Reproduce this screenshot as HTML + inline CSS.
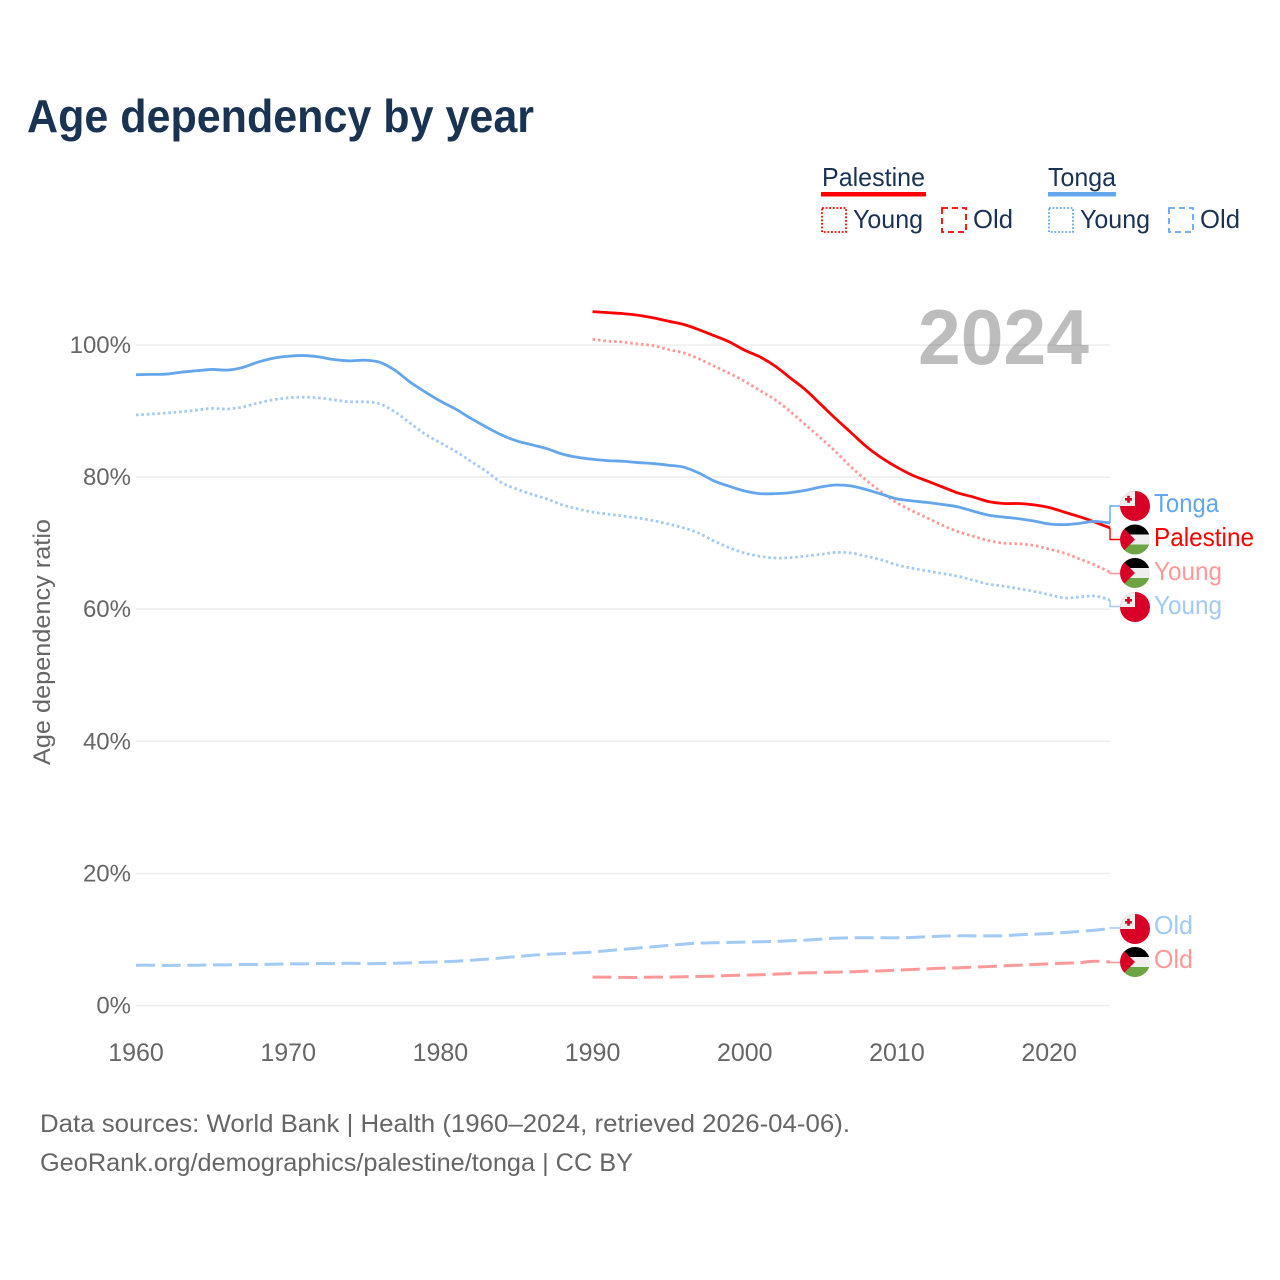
<!DOCTYPE html>
<html lang="en">
<head>
<meta charset="utf-8">
<title>Age dependency by year</title>
<style>
html,body{margin:0;padding:0;background:#fff;}
svg{display:block;font-family:"Liberation Sans",sans-serif;}
</style>
</head>
<body>
<svg id="chart" width="1280" height="1280" viewBox="0 0 1280 1280" xmlns="http://www.w3.org/2000/svg">
<defs>
<clipPath id="flag-clip"><circle cx="15" cy="15" r="15"/></clipPath>
<g id="flag-tonga">
<g clip-path="url(#flag-clip)">
<rect width="30" height="30" fill="#d80027"/>
<rect width="15" height="15" fill="#eee"/>
<rect x="7.2" y="4.8" width="2.6" height="7" fill="#d80027"/>
<rect x="5" y="7" width="7" height="2.6" fill="#d80027"/>
</g>
</g>
<g id="flag-palestine">
<g clip-path="url(#flag-clip)">
<rect width="30" height="10" fill="#000"/>
<rect y="10" width="30" height="10" fill="#eee"/>
<rect y="20" width="30" height="10" fill="#6da544"/>
<polygon points="0,0 0,30 15,15" fill="#d80027"/>
</g>
</g>
</defs>
<text x="27" y="132" font-size="46" font-weight="700" fill="#1a3352" textLength="507" lengthAdjust="spacingAndGlyphs">Age dependency by year</text>

<g font-size="26" fill="#1a3352">
<text x="822" y="186" textLength="103" lengthAdjust="spacingAndGlyphs">Palestine</text>
<rect x="821" y="192" width="105" height="4.5" fill="#ff0000"/>
<text x="1048" y="186" textLength="68" lengthAdjust="spacingAndGlyphs">Tonga</text>
<rect x="1048" y="192" width="68" height="4.5" fill="#64a6ec"/>
<rect x="822" y="208" width="24" height="24" fill="none" stroke="#ff0000" stroke-width="1.8" stroke-dasharray="1.8 1.8"/>
<text x="853" y="228" textLength="70" lengthAdjust="spacingAndGlyphs">Young</text>
<rect x="942" y="208" width="24" height="24" fill="none" stroke="#ff0000" stroke-width="1.8" stroke-dasharray="6 4"/>
<text x="973" y="228" textLength="40" lengthAdjust="spacingAndGlyphs">Old</text>
<rect x="1049" y="208" width="24" height="24" fill="none" stroke="#64a6ec" stroke-width="1.8" stroke-dasharray="1.8 1.8"/>
<text x="1080" y="228" textLength="70" lengthAdjust="spacingAndGlyphs">Young</text>
<rect x="1169" y="208" width="24" height="24" fill="none" stroke="#64a6ec" stroke-width="1.8" stroke-dasharray="6 4"/>
<text x="1200" y="228" textLength="40" lengthAdjust="spacingAndGlyphs">Old</text>
</g>

<g id="grid"></g>
<g id="y-ticks"></g>
<g id="x-ticks"></g>
<text x="918" y="364" font-size="78" font-weight="700" fill="#000000" fill-opacity="0.26" textLength="171" lengthAdjust="spacingAndGlyphs">2024</text>
<text transform="translate(50,765) rotate(-90)" font-size="24" fill="#666666" textLength="246" lengthAdjust="spacingAndGlyphs">Age dependency ratio</text>
<g id="series"></g>
<g id="connectors"></g>

<g font-size="26">
<use href="#flag-tonga" x="1120" y="491"/>
<use href="#flag-palestine" x="1120" y="524.5"/>
<use href="#flag-palestine" x="1120" y="558"/>
<use href="#flag-tonga" x="1120" y="592"/>
<use href="#flag-tonga" x="1120" y="914"/>
<use href="#flag-palestine" x="1120" y="947"/>
<text x="1154" y="512" fill="#64a6ec" textLength="65" lengthAdjust="spacingAndGlyphs">Tonga</text>
<text x="1154" y="546" fill="#ff0000" textLength="100" lengthAdjust="spacingAndGlyphs">Palestine</text>
<text x="1154" y="580" fill="#ff9999" textLength="68" lengthAdjust="spacingAndGlyphs">Young</text>
<text x="1154" y="614" fill="#a2caf4" textLength="68" lengthAdjust="spacingAndGlyphs">Young</text>
<text x="1154" y="934" fill="#a2caf4" textLength="39" lengthAdjust="spacingAndGlyphs">Old</text>
<text x="1154" y="968" fill="#ff9999" textLength="39" lengthAdjust="spacingAndGlyphs">Old</text>
</g>

<g font-size="25" fill="#666666">
<text x="40" y="1132" textLength="810" lengthAdjust="spacingAndGlyphs">Data sources: World Bank | Health (1960–2024, retrieved 2026-04-06).</text>
<text x="40" y="1171" textLength="593" lengthAdjust="spacingAndGlyphs">GeoRank.org/demographics/palestine/tonga | CC BY</text>
</g>
</svg>
<script>
const years = [1960,1961,1962,1963,1964,1965,1966,1967,1968,1969,1970,1971,1972,1973,1974,1975,1976,1977,1978,1979,1980,1981,1982,1983,1984,1985,1986,1987,1988,1989,1990,1991,1992,1993,1994,1995,1996,1997,1998,1999,2000,2001,2002,2003,2004,2005,2006,2007,2008,2009,2010,2011,2012,2013,2014,2015,2016,2017,2018,2019,2020,2021,2022,2023,2024];
const xTickLabels = [1960,1970,1980,1990,2000,2010,2020];
const yTickLabels = [0,20,40,60,80,100];

const tongaTotal = [95.5,95.55,95.6,95.9,96.1,96.3,96.2,96.6,97.4,98,98.3,98.4,98.2,97.8,97.6,97.7,97.4,96.2,94.4,92.9,91.5,90.3,88.9,87.6,86.4,85.5,84.9,84.3,83.5,83,82.7,82.5,82.4,82.2,82.05,81.8,81.5,80.6,79.4,78.6,77.9,77.5,77.5,77.65,78,78.5,78.8,78.65,78.1,77.4,76.7,76.4,76.15,75.85,75.5,74.85,74.25,73.95,73.7,73.35,72.9,72.8,73,73.3,73.05];
const tongaYoung = [89.4,89.55,89.7,89.9,90.15,90.4,90.3,90.6,91.2,91.7,92,92.1,92,91.7,91.4,91.4,91.1,89.9,88.2,86.5,85.2,83.9,82.4,80.9,79.2,78.2,77.4,76.7,75.8,75.2,74.7,74.4,74.1,73.8,73.4,72.9,72.3,71.5,70.3,69.3,68.5,68,67.75,67.8,68.05,68.3,68.6,68.5,68,67.45,66.7,66.2,65.8,65.4,65,64.4,63.8,63.5,63.1,62.7,62.2,61.7,61.85,62,61.4];
const tongaOld = [6.1,6.1,6.05,6.1,6.1,6.15,6.15,6.2,6.2,6.25,6.3,6.3,6.35,6.35,6.4,6.35,6.35,6.4,6.45,6.55,6.6,6.7,6.85,7,7.2,7.4,7.6,7.75,7.85,7.95,8.1,8.3,8.5,8.7,8.9,9.1,9.3,9.45,9.5,9.55,9.6,9.65,9.7,9.8,9.9,10.05,10.2,10.25,10.25,10.25,10.25,10.3,10.4,10.5,10.55,10.55,10.55,10.55,10.7,10.8,10.9,11.05,11.2,11.4,11.65];
const palestineTotal = [105.05,104.9,104.75,104.5,104.1,103.6,103.1,102.3,101.4,100.45,99.2,98.2,96.8,95,93.2,91,88.8,86.7,84.6,82.9,81.5,80.3,79.4,78.5,77.6,77,76.3,76,76,75.8,75.4,74.7,74,73.2,72.3];
const palestineYoung = [100.85,100.6,100.45,100.15,99.9,99.3,98.8,97.9,96.8,95.7,94.5,93.1,91.7,89.9,87.9,85.9,83.8,81.5,79.5,77.7,76.1,74.9,73.8,72.7,71.75,71.05,70.4,70,69.9,69.65,69.1,68.5,67.6,66.7,65.6];
const palestineOld = [4.3,4.3,4.25,4.25,4.3,4.3,4.35,4.4,4.45,4.55,4.6,4.65,4.75,4.85,4.95,5,5.05,5.1,5.2,5.25,5.35,5.45,5.55,5.65,5.7,5.8,5.9,6,6.1,6.2,6.3,6.4,6.5,6.7,6.6];

const NS = 'http://www.w3.org/2000/svg';
const x = function (year) { return 136 + (year - 1960) * (1110 - 136) / 64; };
const y = function (value) { return 1005.5 - value * 6.605; };
function make(tag, parentId) {
  const el = document.createElementNS(NS, tag);
  document.getElementById(parentId).appendChild(el);
  return el;
}
function smoothPath(pts) {
  let d = 'M' + pts[0][0].toFixed(2) + ' ' + pts[0][1].toFixed(2);
  for (let i = 0; i < pts.length - 1; i++) {
    const p0 = pts[Math.max(i - 1, 0)];
    const p1 = pts[i];
    const p2 = pts[i + 1];
    const p3 = pts[Math.min(i + 2, pts.length - 1)];
    const c1x = p1[0] + (p2[0] - p0[0]) / 6;
    const c1y = p1[1] + (p2[1] - p0[1]) / 6;
    const c2x = p2[0] - (p3[0] - p1[0]) / 6;
    const c2y = p2[1] - (p3[1] - p1[1]) / 6;
    d += 'C' + c1x.toFixed(2) + ' ' + c1y.toFixed(2) + ' ' + c2x.toFixed(2) + ' ' + c2y.toFixed(2) + ' ' + p2[0].toFixed(2) + ' ' + p2[1].toFixed(2);
  }
  return d;
}

yTickLabels.forEach(function (tick) {
  const line = make('line', 'grid');
  
  
  line.setAttribute('x1', x(1960));
  line.setAttribute('x2', x(2024));
  line.setAttribute('y1', y(tick));
  line.setAttribute('y2', y(tick));
  line.setAttribute('stroke', '#eeeeee');
  line.setAttribute('stroke-width', '1.6');
  const label = make('text', 'y-ticks');
  
  
  label.setAttribute('x', 131);
  label.setAttribute('y', y(tick) + 8);
  label.setAttribute('text-anchor', 'end');
  label.setAttribute('font-size', '24');
  label.setAttribute('fill', '#666666');
  label.textContent = tick + '%';
});

xTickLabels.forEach(function (tick) {
  const label = make('text', 'x-ticks');
  
  
  label.setAttribute('x', x(tick));
  label.setAttribute('y', 1061);
  label.setAttribute('text-anchor', 'middle');
  label.setAttribute('font-size', '25');
  label.setAttribute('fill', '#666666');
  label.textContent = tick;
});

function drawSeries(name, values, color, width, dash, labelY) {
  const offset = years.length - values.length;
  const pts = values.map(function (v, i) { return [x(years[i + offset]), y(v)]; });
  const line = make('path', 'series');
  
  
  line.setAttribute('d', smoothPath(pts));
  line.setAttribute('fill', 'none');
  line.setAttribute('stroke', color);
  line.setAttribute('stroke-width', width);
  line.setAttribute('stroke-linejoin', 'round');
  if (dash) line.setAttribute('stroke-dasharray', dash);
  const end = y(values[values.length - 1]);
  const link = make('path', 'connectors');
  
  
  link.setAttribute('d', 'M1110 ' + end.toFixed(2) + 'L1110 ' + labelY + 'L1120 ' + labelY);
  link.setAttribute('fill', 'none');
  link.setAttribute('stroke', color);
  link.setAttribute('stroke-width', '1.4');
}

drawSeries('tonga-old', tongaOld, '#a2caf4', 3, '19 6.7', 928);
drawSeries('palestine-old', palestineOld, '#ff9999', 3, '19 6.7', 962.5);
drawSeries('tonga-young', tongaYoung, '#a2caf4', 2.8, '2.6 2.8', 606.5);
drawSeries('palestine-young', palestineYoung, '#ff9999', 2.8, '2.6 2.8', 573.5);
drawSeries('palestine-total', palestineTotal, '#ff0000', 2.8, '', 539.5);
drawSeries('tonga-total', tongaTotal, '#64a6ec', 2.8, '', 506);
</script>
</body>
</html>
